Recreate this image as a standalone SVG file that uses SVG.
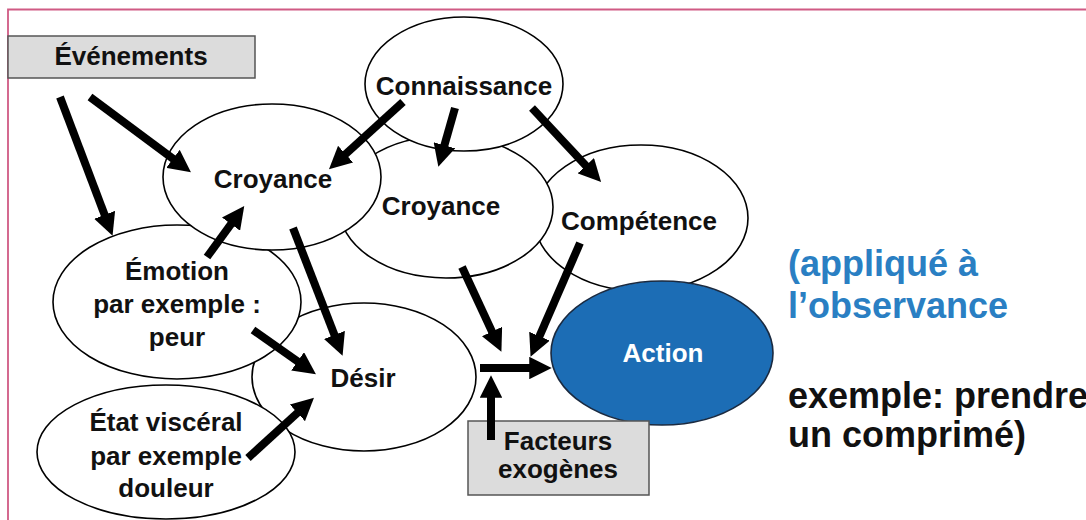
<svg xmlns="http://www.w3.org/2000/svg" width="1086" height="520" viewBox="0 0 1086 520">
<style>
.node{fill:#ffffff;stroke:#000000;stroke-width:1.6}
.box{fill:#dcdcdc;stroke:#555555;stroke-width:1.5}
.t{font-family:"Liberation Sans",Arial,sans-serif;font-weight:bold;font-size:26px;fill:#111111;text-anchor:middle}
.side{font-family:"Liberation Sans",Arial,sans-serif;font-weight:bold;font-size:36px}
.arr{stroke:#000000;stroke-width:8;fill:none;marker-end:url(#head)}
</style>
<defs>
<marker id="head" viewBox="0 0 10 10" refX="3" refY="5" markerWidth="2.8" markerHeight="2.8" markerUnits="strokeWidth" orient="auto">
<path d="M0,0 L10,5 L0,10 z" fill="#000000"/>
</marker>
</defs>
<rect x="0" y="0" width="1086" height="520" fill="#ffffff"/>
<path d="M8,520 L8,9.5 L1086,9.5" fill="none" stroke="#d05a84" stroke-width="1.8"/>

<g id="competence"><ellipse class="node" cx="641" cy="218" rx="107" ry="73"/><text class="t" x="639" y="230">Compétence</text></g>
<g id="croyance2"><ellipse class="node" cx="446" cy="207" rx="107" ry="71"/><text class="t" x="441" y="215">Croyance</text></g>
<g id="connaissance"><ellipse class="node" cx="464" cy="84" rx="99" ry="67"/><text class="t" x="464" y="95">Connaissance</text></g>
<g id="desir"><ellipse class="node" cx="364" cy="377" rx="112" ry="74"/><text class="t" x="363" y="387">Désir</text></g>
<g id="emotion"><ellipse class="node" cx="177" cy="302" rx="124" ry="77"/><text class="t" x="177" y="280">Émotion</text><text class="t" x="177" y="313">par exemple :</text><text class="t" x="177" y="346">peur</text></g>
<g id="etat"><ellipse class="node" cx="166" cy="452" rx="129" ry="67"/><text class="t" x="166" y="431">État viscéral</text><text class="t" x="166" y="465">par exemple</text><text class="t" x="166" y="497">douleur</text></g>
<g id="croyance1"><ellipse class="node" cx="272" cy="177" rx="109" ry="73"/><text class="t" x="273" y="188">Croyance</text></g>
<g id="action"><ellipse cx="662" cy="353" rx="111" ry="72" fill="#1c6db5" stroke="#1a2a40" stroke-width="1.6"/><text class="t" x="663" y="362" fill="#ffffff" style="fill:#ffffff">Action</text></g>
<g id="evenements"><rect class="box" x="8" y="36" width="247" height="42"/><text class="t" x="131" y="65">Événements</text></g>
<g id="facteurs"><rect class="box" x="468" y="421" width="181" height="74"/><text class="t" x="558" y="450">Facteurs</text><text class="t" x="558" y="478">exogènes</text></g>

<g id="connectors">
<line class="arr" x1="90" y1="97" x2="178.4" y2="162.8"/>
<line class="arr" x1="60" y1="97" x2="107" y2="221.1"/>
<line class="arr" x1="403" y1="102" x2="340.6" y2="158.6"/>
<line class="arr" x1="455" y1="108" x2="442.6" y2="151.7"/>
<line class="arr" x1="532" y1="108" x2="590.4" y2="170.6"/>
<line class="arr" x1="207" y1="257" x2="235" y2="218.7"/>
<line class="arr" x1="293" y1="228" x2="336.9" y2="341.2"/>
<line class="arr" x1="253" y1="330" x2="303.1" y2="365.2"/>
<line class="arr" x1="248" y1="458" x2="302.4" y2="408.4"/>
<line class="arr" x1="462" y1="267" x2="494.8" y2="337.6"/>
<line class="arr" x1="580" y1="243" x2="536.8" y2="342.4"/>
<line class="arr" x1="480" y1="368" x2="536" y2="368"/>
<line class="arr" x1="491" y1="440" x2="491" y2="391"/>
</g>

<g id="note">
<text class="side" x="788" y="276" fill="#2a7fc3">(appliqué à</text>
<text class="side" x="788" y="318" fill="#2a7fc3">l’observance</text>
<text class="side" x="788" y="408" fill="#111111">exemple: prendre</text>
<text class="side" x="788" y="447" fill="#111111">un comprimé)</text>
</g>
</svg>
